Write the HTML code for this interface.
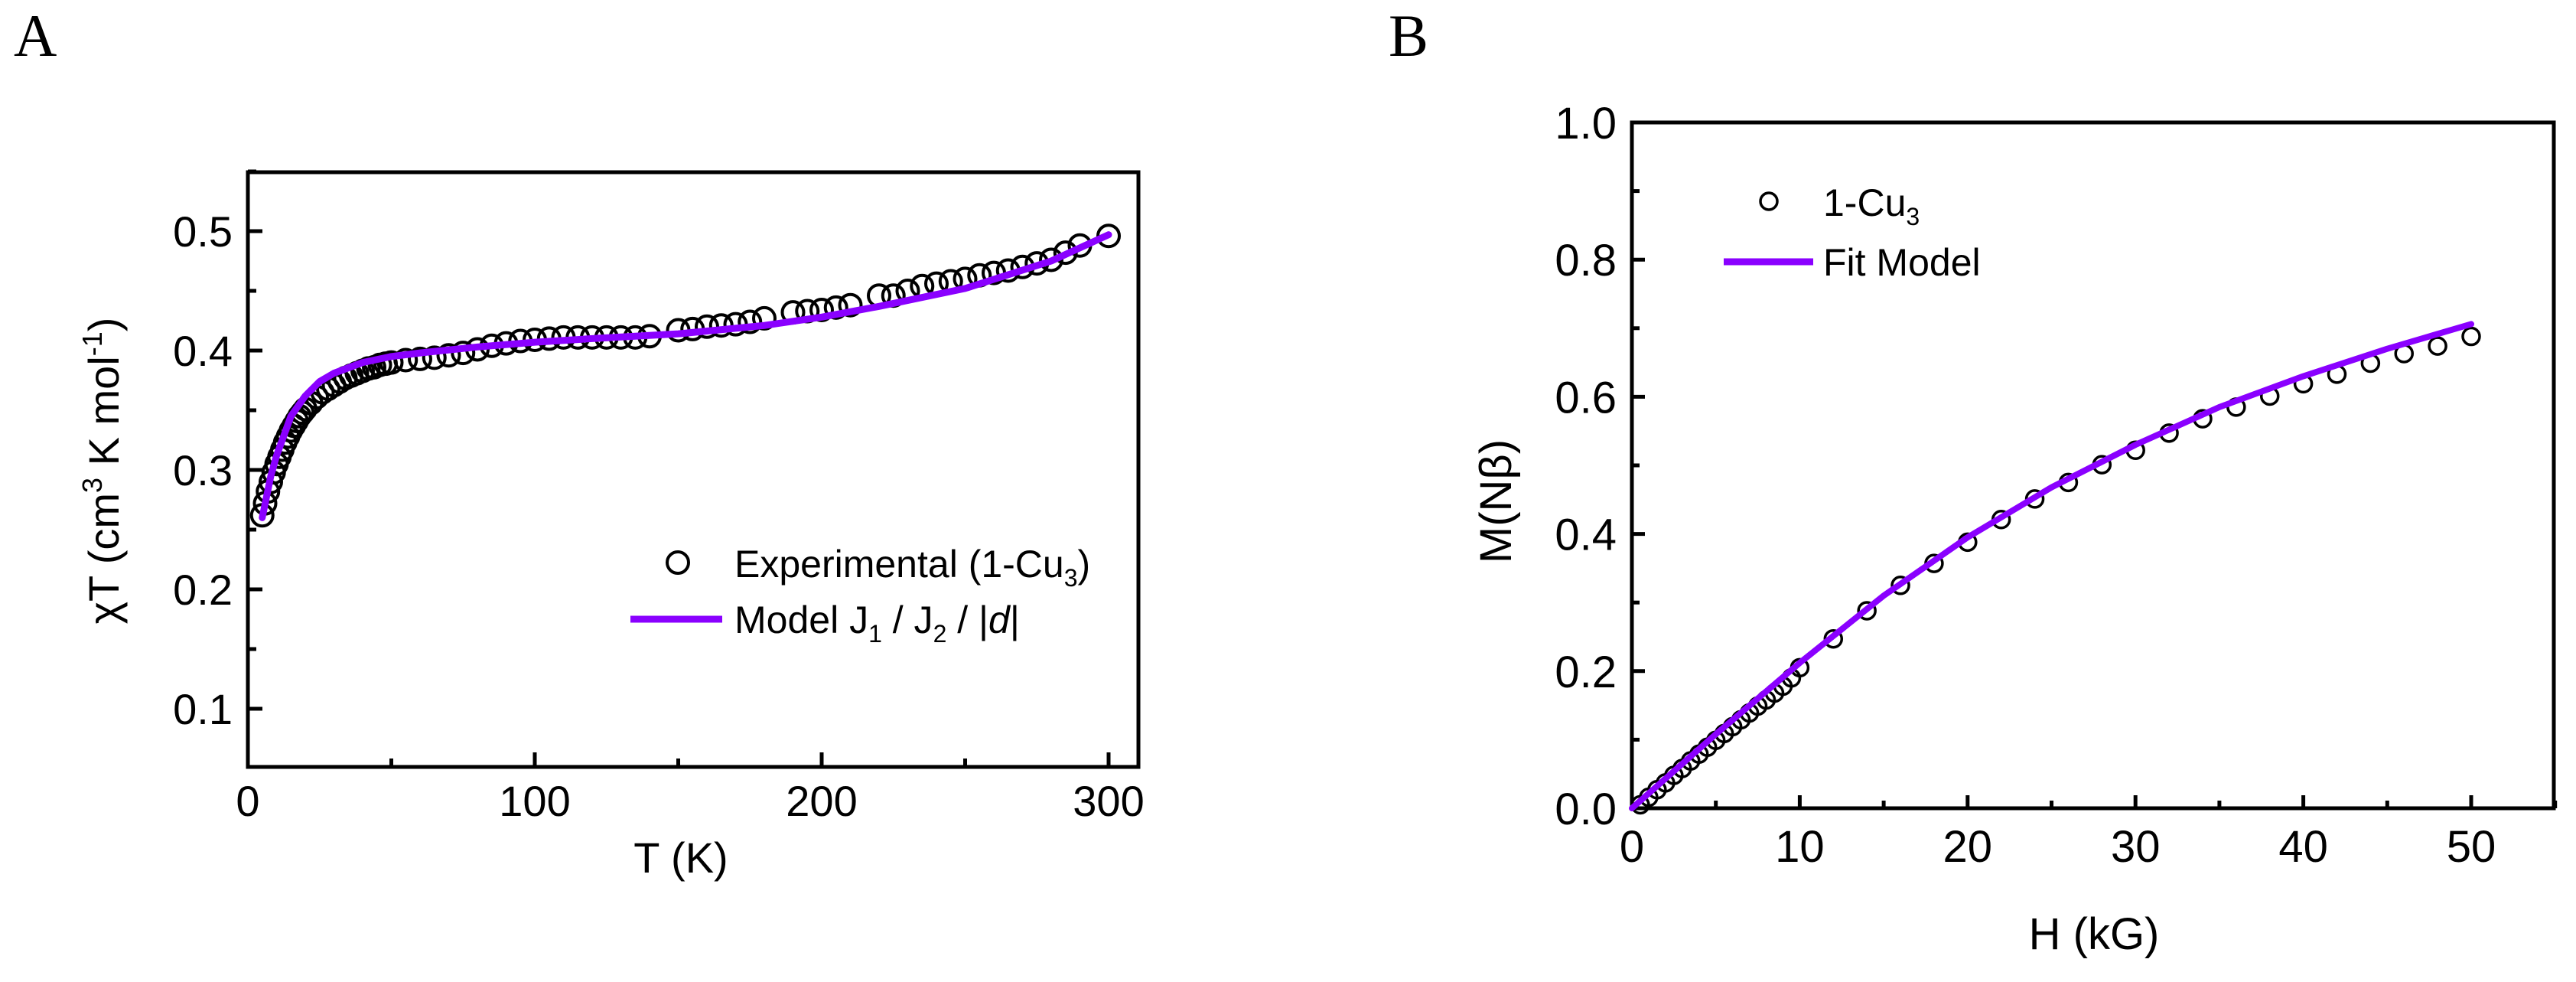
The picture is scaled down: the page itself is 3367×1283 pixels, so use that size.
<!DOCTYPE html>
<html><head><meta charset="utf-8"><style>
html,body{margin:0;padding:0;background:#fff;}
svg{display:block;font-family:"Liberation Sans",sans-serif;}
</style></head><body>
<svg id="fig" width="3367" height="1283" viewBox="0 0 3367 1283" xmlns="http://www.w3.org/2000/svg">
<text x="18" y="73" font-family="Liberation Serif, serif" font-size="78">A</text>
<text x="1815" y="73" font-family="Liberation Serif, serif" font-size="78">B</text>
<g id="pa"></g>
<g id="pb"></g>
</svg>
<script>
// Panel A data
const aExpT = [5,6,7,8,9,10,11,12,13,14,15,16,17,18,19,20,22,24,26,28,30,32,34,36,38,40,42,44,46,48,50,55,60,65,70,75,80,85,90,95,100,105,110,115,120,125,130,135,140,150,155,160,165,170,175,180,190,195,200,205,210,220,225,230,235,240,245,250,255,260,265,270,275,280,285,290,300];
const aExpV = [0.262,0.272,0.282,0.29,0.298,0.305,0.311,0.317,0.323,0.328,0.333,0.337,0.341,0.345,0.348,0.351,0.356,0.361,0.365,0.368,0.371,0.374,0.377,0.379,0.381,0.383,0.385,0.386,0.388,0.389,0.390,0.392,0.393,0.394,0.396,0.398,0.401,0.404,0.406,0.408,0.409,0.410,0.411,0.411,0.411,0.411,0.411,0.411,0.412,0.417,0.418,0.420,0.421,0.422,0.424,0.427,0.432,0.433,0.434,0.436,0.438,0.446,0.446,0.450,0.454,0.456,0.458,0.460,0.463,0.465,0.467,0.470,0.473,0.476,0.482,0.488,0.496];
const aFitT = [5,8,10,15,20,25,30,40,50,60,80,100,120,150,180,200,220,250,280,300];
const aFitV = [0.26,0.295,0.312,0.345,0.362,0.374,0.381,0.39,0.395,0.398,0.403,0.407,0.41,0.414,0.421,0.428,0.437,0.452,0.475,0.497];
const aYTicks = ["0.1","0.2","0.3","0.4","0.5"];
const aXTicks = ["0","100","200","300"];
// Panel B data
const bExpH = [0.5,1,1.5,2,2.5,3,3.5,4,4.5,5,5.5,6,6.5,7,7.5,8,8.5,9,9.5,10,12,14,16,18,20,22,24,26,28,30,32,34,36,38,40,42,44,46,48,50];
const bExpV = [0.005,0.016,0.027,0.037,0.048,0.058,0.069,0.079,0.089,0.099,0.109,0.119,0.129,0.139,0.149,0.158,0.168,0.178,0.190,0.205,0.247,0.288,0.325,0.357,0.388,0.421,0.451,0.475,0.501,0.522,0.547,0.568,0.585,0.601,0.619,0.633,0.649,0.663,0.674,0.688];
const bFitH = [0,5,10,15,20,25,30,35,40,45,50];
const bFitV = [0,0.108,0.212,0.31,0.395,0.468,0.53,0.585,0.63,0.67,0.706];
const bYTicks = ["0.0","0.2","0.4","0.6","0.8","1.0"];
const bXTicks = ["0","10","20","30","40","50"];

const NS="http://www.w3.org/2000/svg";
function mk(parent,tag,attrs,txt){const e=document.createElementNS(NS,tag);for(const k in attrs)e.setAttribute(k,attrs[k]);if(txt!==undefined)e.textContent=txt;parent.appendChild(e);return e;}

// Panel A
(function(){
const g=document.getElementById('pa');
const L=324,R=1488,T=225,B=1002;
const xs=v=>L+v*3.75, ys=v=>302+(0.5-v)*1560;
let e;
e=mk(g,'rect',{x:L,y:T,width:R-L,height:B-T,fill:'none',stroke:'#000','stroke-width':5});

aYTicks.forEach((t,i)=>{const v=parseFloat(t);const y=ys(v);
 e=mk(g,'line',{x1:L,x2:L+19,y1:y,y2:y,stroke:'#000','stroke-width':5});
 
 e=mk(g,'line',{x1:L,x2:L+11,y1:ys(v+0.05),y2:ys(v+0.05),stroke:'#000','stroke-width':5});
 
 e=mk(g,'text',{x:304,y:y+20,'text-anchor':'end','font-size':56},t);
 
});
aXTicks.forEach((t,i)=>{const v=parseFloat(t);const x=xs(v);
 e=mk(g,'line',{x1:x,x2:x,y1:B,y2:B-19,stroke:'#000','stroke-width':5});
 
 if(v<300){e=mk(g,'line',{x1:xs(v+50),x2:xs(v+50),y1:B,y2:B-11,stroke:'#000','stroke-width':5});
 }
 e=mk(g,'text',{x:x,y:1066,'text-anchor':'middle','font-size':56},t);
 
});
e=mk(g,'text',{x:890,y:1140,'text-anchor':'middle','font-size':56},'T (K)');

e=mk(g,'text',{transform:'translate(155,615) rotate(-90)','text-anchor':'middle','font-size':56});

e.innerHTML='χT (cm<tspan font-size="36" dy="-22">3</tspan><tspan dy="22"> K mol</tspan><tspan font-size="36" dy="-22">-1</tspan><tspan dy="22">)</tspan>';
aExpT.forEach((t,i)=>{e=mk(g,'circle',{cx:xs(t),cy:ys(aExpV[i]),r:14,fill:'none',stroke:'#000','stroke-width':4});
 });
e=mk(g,'polyline',{points:aFitT.map((t,i)=>xs(t)+','+ys(aFitV[i])).join(' '),fill:'none',stroke:'#8a00ff','stroke-width':9,'stroke-linejoin':'round','stroke-linecap':'round'});

e=mk(g,'circle',{cx:886,cy:735,r:14,fill:'none',stroke:'#000','stroke-width':4});

e=mk(g,'text',{x:960,y:754,'font-size':50});

e.innerHTML='Experimental (1-Cu<tspan font-size="32" dy="12">3</tspan><tspan dy="-12">)</tspan>';
e=mk(g,'line',{x1:824,x2:944,y1:809,y2:809,stroke:'#8a00ff','stroke-width':9});

e=mk(g,'text',{x:960,y:827,'font-size':50});

e.innerHTML='Model J<tspan font-size="32" dy="12">1</tspan><tspan dy="-12"> / J</tspan><tspan font-size="32" dy="12">2</tspan><tspan dy="-12"> / |</tspan><tspan font-style="italic">d</tspan>|';
})();

// Panel B
(function(){
const g=document.getElementById('pb');
const L=2133,R=3338,T=160,B=1056;
const xs=v=>L+v*21.94, ys=v=>B-v*896;
let e;
e=mk(g,'rect',{x:L,y:T,width:R-L,height:B-T,fill:'none',stroke:'#000','stroke-width':5});

bYTicks.forEach(t=>{const v=parseFloat(t);const y=ys(v);
 e=mk(g,'line',{x1:L,x2:L+17,y1:y,y2:y,stroke:'#000','stroke-width':5});
 
 if(v<1){e=mk(g,'line',{x1:L,x2:L+10,y1:ys(v+0.1),y2:ys(v+0.1),stroke:'#000','stroke-width':5});
 }
 e=mk(g,'text',{x:2113,y:y+21,'text-anchor':'end','font-size':58},t);
 
});
bXTicks.forEach(t=>{const v=parseFloat(t);const x=xs(v);
 e=mk(g,'line',{x1:x,x2:x,y1:B,y2:B-17,stroke:'#000','stroke-width':5});
 
 e=mk(g,'line',{x1:xs(v+5),x2:xs(v+5),y1:B,y2:B-10,stroke:'#000','stroke-width':5});
 
 e=mk(g,'text',{x:x,y:1126,'text-anchor':'middle','font-size':58},t);
 
});
e=mk(g,'text',{x:2737,y:1240,'text-anchor':'middle','font-size':58},'H (kG)');

e=mk(g,'text',{transform:'translate(1975,655) rotate(-90)','text-anchor':'middle','font-size':58},'M(Nβ)');

bExpH.forEach((h,i)=>{e=mk(g,'circle',{cx:xs(h),cy:ys(bExpV[i]),r:11,fill:'none',stroke:'#000','stroke-width':3.5});
 });
e=mk(g,'polyline',{points:bFitH.map((h,i)=>xs(h)+','+ys(bFitV[i])).join(' '),fill:'none',stroke:'#8a00ff','stroke-width':8,'stroke-linejoin':'round','stroke-linecap':'round'});

e=mk(g,'circle',{cx:2312,cy:263,r:11,fill:'none',stroke:'#000','stroke-width':3.5});

e=mk(g,'text',{x:2383,y:282,'font-size':50});

e.innerHTML='1-Cu<tspan font-size="32" dy="12">3</tspan>';
e=mk(g,'line',{x1:2253,x2:2370,y1:342,y2:342,stroke:'#8a00ff','stroke-width':9});

e=mk(g,'text',{x:2383,y:360,'font-size':50},'Fit Model');

})();
</script>
</body></html>
